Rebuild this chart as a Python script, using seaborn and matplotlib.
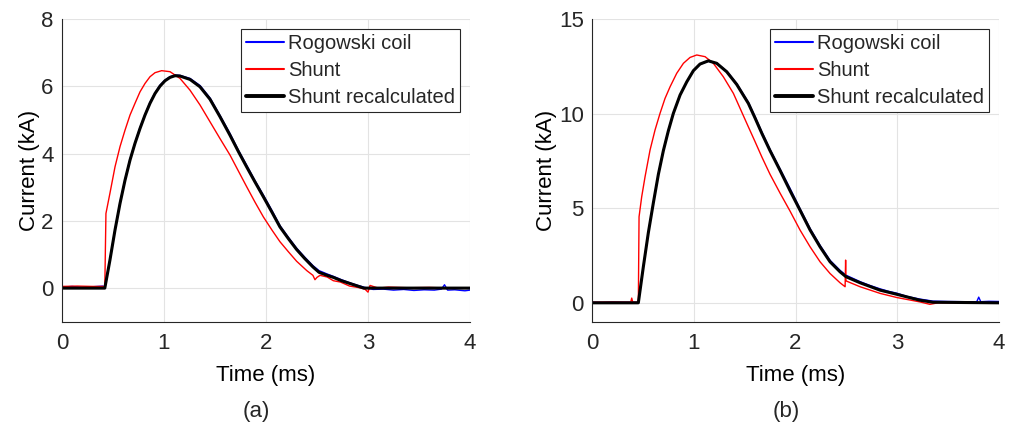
import matplotlib
matplotlib.use("Agg")
import matplotlib.pyplot as plt
import seaborn as sns

# ---- panel (a) : values (time in ms, current in kA) ----
rog_a_t = [0, 0.1, 0.2, 0.3, 0.4, 0.42,
           0.47, 0.52, 0.569, 0.618, 0.667, 0.716, 0.765, 0.814, 0.863, 0.912, 0.961, 1.01, 1.059,
           1.108, 1.157, 1.255, 1.353, 1.451,
           1.549, 1.647, 1.73, 1.81, 1.89, 1.974, 2.06, 2.137, 2.22, 2.30, 2.38, 2.46, 2.52, 2.60,
           2.66, 2.74, 2.82, 2.90,
           2.97, 3.05, 3.15, 3.25, 3.35, 3.45, 3.55, 3.65, 3.72, 3.75, 3.78, 3.85, 3.95, 4.0]
rog_a_i = [0.03, 0.05, 0.02, 0.04, 0.06, 0.03,
           0.85, 1.75, 2.55, 3.23, 3.84, 4.33, 4.78, 5.17, 5.53, 5.81, 6.04, 6.19, 6.29,
           6.34, 6.33, 6.24, 6.03, 5.66,
           5.14, 4.60, 4.10, 3.66, 3.21, 2.77, 2.30, 1.86, 1.51, 1.19, 0.92, 0.67, 0.52, 0.42,
           0.35, 0.25, 0.16, 0.08,
           0.02, -0.04, -0.03, -0.06, -0.04, -0.07, -0.05, -0.06, -0.03, 0.10, -0.06, -0.05, -0.08, -0.06]

shunt_a_t = [0, 0.15, 0.3, 0.42, 0.431, 0.47, 0.52, 0.569, 0.618, 0.667, 0.716, 0.765, 0.814,
             0.863, 0.912, 0.977, 1.059, 1.157, 1.255, 1.353, 1.451, 1.549, 1.647, 1.73, 1.81,
             1.89, 1.974, 2.06, 2.137, 2.22, 2.30, 2.40, 2.46, 2.48, 2.50, 2.53, 2.60, 2.66, 2.73,
             2.82, 2.90, 2.97, 3.00, 3.02, 3.10, 3.20, 3.40, 3.60, 3.80, 4.0]
shunt_a_i = [0.05, 0.06, 0.05, 0.05, 2.22, 2.82, 3.61, 4.21, 4.70, 5.15, 5.50, 5.84, 6.09,
             6.29, 6.41, 6.47, 6.44, 6.24, 5.89, 5.45, 4.95, 4.45, 3.96, 3.48, 3.02,
             2.57, 2.12, 1.72, 1.38, 1.08, 0.80, 0.52, 0.38, 0.25, 0.32, 0.38, 0.33, 0.22, 0.18,
             0.06, 0.02, -0.03, -0.12, 0.08, 0.0, 0.03, 0.01, 0.02, 0.0, 0.0]

recalc_a_t = [0, 0.42, 0.47, 0.52, 0.569, 0.618, 0.667, 0.716, 0.765, 0.814, 0.863, 0.912, 0.961,
              1.01, 1.059, 1.108, 1.157, 1.255, 1.353, 1.451, 1.549, 1.647, 1.73, 1.81, 1.89, 1.974,
              2.06, 2.137, 2.22, 2.30, 2.38, 2.46, 2.52, 2.60, 2.66, 2.74, 2.82, 2.90, 2.96, 4.0]
recalc_a_i = [0, 0, 0.83, 1.73, 2.52, 3.21, 3.81, 4.31, 4.75, 5.15, 5.50, 5.79, 6.01,
              6.17, 6.27, 6.32, 6.31, 6.21, 5.99, 5.62, 5.10, 4.55, 4.06, 3.61, 3.17, 2.72,
              2.25, 1.82, 1.47, 1.15, 0.88, 0.63, 0.47, 0.38, 0.32, 0.22, 0.14, 0.06, 0.0, 0.0]

# ---- panel (b) ----
rog_b_t = [0, 0.1, 0.2, 0.3, 0.455,
           0.504, 0.553, 0.603, 0.652, 0.701, 0.75, 0.799, 0.865, 0.931, 0.996, 1.061, 1.143,
           1.225, 1.324, 1.422, 1.536, 1.60, 1.67, 1.749, 1.848, 1.946, 2.044, 2.143, 2.241,
           2.339, 2.437, 2.496, 2.634,
           2.73, 2.83, 2.92, 2.995, 3.1, 3.22, 3.35, 3.5, 3.65, 3.78, 3.80, 3.82, 3.9, 4.0]
rog_b_i = [0.03, 0.02, 0.04, 0.03, 0.03,
           1.93, 3.73, 5.33, 6.82, 8.07, 9.12, 10.03, 10.99, 11.69, 12.27, 12.62, 12.78,
           12.68, 12.25, 11.60, 10.61, 9.87, 9.02, 8.12, 7.08, 6.05, 4.98, 3.93, 3.04,
           2.25, 1.72, 1.46, 1.12,
           0.92, 0.74, 0.60, 0.51, 0.33, 0.20, 0.09, 0.07, 0.06, 0.05, 0.30, 0.06, 0.08, 0.07]

shunt_b_t = [0, 0.2, 0.38, 0.39, 0.40, 0.455, 0.462, 0.488, 0.521, 0.57, 0.619, 0.668, 0.717,
             0.767, 0.832, 0.898, 0.963, 1.029, 1.111, 1.192, 1.29, 1.389, 1.536, 1.60, 1.67,
             1.749, 1.848, 1.946, 2.044, 2.143, 2.241, 2.339, 2.437, 2.487, 2.492, 2.495, 2.50,
             2.634, 2.83, 2.995, 3.22, 3.32, 3.40, 4.0]
shunt_b_i = [0.03, 0.04, 0.03, 0.25, 0.03, 0.03, 4.55, 5.61, 6.67, 8.08, 9.14, 10.02, 10.81,
             11.43, 12.14, 12.67, 12.98, 13.11, 13.02, 12.67, 11.96, 11.08, 9.31, 8.55, 7.70,
             6.80, 5.80, 4.85, 3.85, 2.96, 2.17, 1.55, 1.06, 0.85, 2.26, 1.20, 1.15,
             0.85, 0.50, 0.28, 0.05, -0.08, 0.0, 0.0]

recalc_b_t = [0, 0.455, 0.504, 0.553, 0.603, 0.652, 0.701, 0.75, 0.799, 0.865, 0.931, 0.996,
              1.061, 1.143, 1.225, 1.324, 1.422, 1.536, 1.60, 1.67, 1.749, 1.848, 1.946, 2.044,
              2.143, 2.241, 2.339, 2.437, 2.496, 2.634, 2.83, 2.995, 3.22, 3.35, 4.0]
recalc_b_i = [0, 0, 1.90, 3.70, 5.30, 6.80, 8.05, 9.10, 10.02, 10.99, 11.69, 12.28,
              12.63, 12.80, 12.67, 12.22, 11.55, 10.55, 9.80, 8.95, 8.05, 7.00, 5.93, 4.90,
              3.85, 2.96, 2.17, 1.64, 1.38, 1.06, 0.67, 0.45, 0.14, 0.03, 0.0]

labels = ["Rogowski coil", "Shunt", "Shunt recalculated"]

sns.set_theme(style="white")
plt.rcParams['font.family'] = ['Liberation Sans', 'DejaVu Sans']
DARK = '#262626'


def draw_panel(ax, series, ylim, yticks, tag, tag_x):
    colors = ['#0000ff', '#ff0000', '#000000']
    widths = [1.0, 1.0, 2.2]
    for (t, i), lab, c, lw in zip(series, labels, colors, widths):
        sns.lineplot(x=t, y=i, ax=ax, color=c, linewidth=lw, label=lab,
                     estimator=None, sort=False)
    ax.set_xlim(0, 4)
    ax.set_ylim(*ylim)
    ax.set_xticks([0, 1, 2, 3, 4])
    ax.set_yticks(yticks)
    ax.grid(True, color='#e3e3e3', linewidth=0.8)
    ax.set_axisbelow(True)
    for side in ['top', 'right']:
        ax.spines[side].set_visible(False)
    for side in ['left', 'bottom']:
        ax.spines[side].set_color(DARK)
        ax.spines[side].set_linewidth(0.8)
    ax.tick_params(axis='both', direction='in', length=4, width=0.8, color=DARK,
                   labelcolor=DARK, labelsize=16)
    ax.tick_params(axis='x', pad=8)
    ax.tick_params(axis='y', pad=6)
    ax.set_xlabel('Time (ms)', fontsize=16, color='black', labelpad=8)
    ax.set_ylabel('Current (kA)', fontsize=16, color='black', labelpad=1)
    leg = ax.legend(loc='upper right', fontsize=14.5, frameon=True, fancybox=False,
                    framealpha=1, edgecolor=DARK, borderaxespad=0.5, borderpad=0.25,
                    handlelength=1.9, handletextpad=0.2, labelspacing=0.38)
    leg.get_frame().set_linewidth(0.8)
    for h, lw in zip(leg.get_lines(), [1.5, 1.5, 2.8]):
        h.set_linewidth(lw)
    ax.figure.text(tag_x, 0.035, tag, ha='center', va='center', fontsize=16)


fig = plt.figure(figsize=(10.11, 4.26), dpi=100)
ax_a = fig.add_axes([0.0613, 0.2448, 0.4036, 0.71])
ax_b = fig.add_axes([0.5856, 0.2448, 0.4026, 0.71])

draw_panel(ax_a, [(rog_a_t, rog_a_i), (shunt_a_t, shunt_a_i), (recalc_a_t, recalc_a_i)],
           (-1, 8), [0, 2, 4, 6, 8], '(a)', 0.254)
draw_panel(ax_b, [(rog_b_t, rog_b_i), (shunt_b_t, shunt_b_i), (recalc_b_t, recalc_b_i)],
           (-1, 15), [0, 5, 10, 15], '(b)', 0.778)

fig.savefig('out.png', dpi=100)
